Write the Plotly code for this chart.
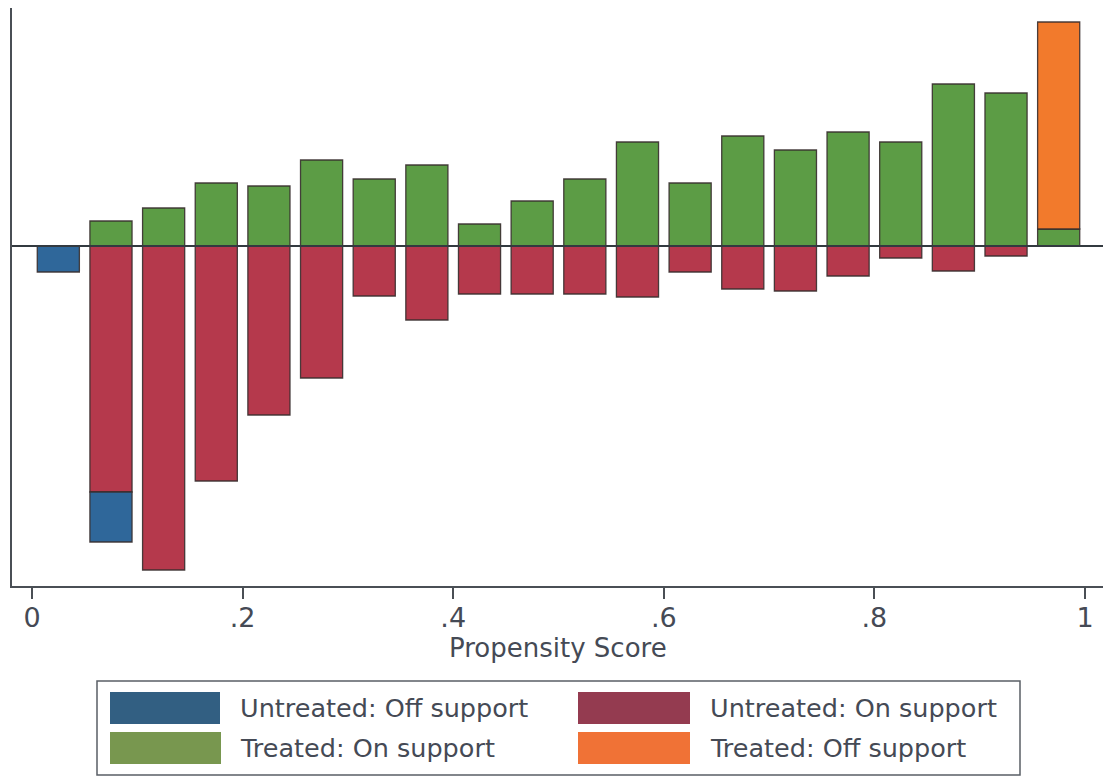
import plotly.graph_objects as go

# ---- data (bin centres of propensity score, bar heights as density) ----
bin_centers = [0.025, 0.075, 0.125, 0.175, 0.225, 0.275, 0.325, 0.375, 0.425, 0.475,
               0.525, 0.575, 0.625, 0.675, 0.725, 0.775, 0.825, 0.875, 0.925, 0.975]
treated_on = [None, 0.25, 0.38, 0.63, 0.60, 0.86, 0.67, 0.81, 0.22, 0.45,
              0.67, 1.04, 0.63, 1.10, 0.96, 1.14, 1.04, 1.62, 1.53, 0.17]
treated_off = [None, None, None, None, None, None, None, None, None, None,
               None, None, None, None, None, None, None, None, None, 2.07]
untreated_on = [None, 2.46, 3.24, 2.35, 1.69, 1.32, 0.50, 0.74, 0.48, 0.48,
                0.48, 0.51, 0.26, 0.43, 0.45, 0.30, 0.12, 0.25, 0.10, None]
untreated_off = [0.26, 0.50, None, None, None, None, None, None, None, None,
                 None, None, None, None, None, None, None, None, None, None]
tick_vals = [0, 0.2, 0.4, 0.6, 0.8, 1]
tick_text = ["0", ".2", ".4", ".6", ".8", "1"]
legend_labels = ["Untreated: Off support", "Untreated: On support",
                 "Treated: On support", "Treated: Off support"]

def neg(v):
    return [None if x is None else -x for x in v]

BLUE, RED, GREEN, ORANGE = "#2f679a", "#b5394c", "#5c9c45", "#f27a2c"
LBLUE, LRED, LGREEN, LORANGE = "#325f82", "#943b50", "#78974f", "#f07236"
OUT = "rgba(55,45,45,0.9)"
FONT = "DejaVu Sans"
TXT = "#454a55"

fig = go.Figure()
bw = 0.04
fig.add_trace(go.Bar(x=bin_centers, y=neg(untreated_on), width=bw, name=legend_labels[1],
                     marker=dict(color=RED, line=dict(color=OUT, width=1.3))))
fig.add_trace(go.Bar(x=bin_centers, y=neg(untreated_off), width=bw, name=legend_labels[0],
                     marker=dict(color=BLUE, line=dict(color=OUT, width=1.3))))
fig.add_trace(go.Bar(x=bin_centers, y=treated_on, width=bw, name=legend_labels[2],
                     marker=dict(color=GREEN, line=dict(color=OUT, width=1.3))))
fig.add_trace(go.Bar(x=bin_centers, y=treated_off, width=bw, name=legend_labels[3],
                     marker=dict(color=ORANGE, line=dict(color=OUT, width=1.3))))

# plot area in pixels
L, R, T, B = 12, 1103, 8, 586
W, H = 1109, 777
def px(x):
    return (x - L) / (R - L)
def py(y):
    return (B - y) / (B - T)

shapes = [
    dict(type="line", xref="paper", yref="y", x0=0, x1=1, y0=0, y1=0,
         line=dict(color="#333a40", width=2)),
    dict(type="rect", xref="paper", yref="paper", x0=px(97), x1=px(1020),
         y0=py(775), y1=py(681), line=dict(color="#5a5f66", width=1.5)),
]
swatches = [
    (110, 220, 692, 724, LBLUE, legend_labels[0], 238),
    (578, 690, 692, 724, LRED, legend_labels[1], 708),
    (110, 221, 732, 764, LGREEN, legend_labels[2], 238),
    (578, 690, 732, 764, LORANGE, legend_labels[3], 708),
]
annotations = []
for x0, x1, y0, y1, c, lab, tx in swatches:
    shapes.append(dict(type="rect", xref="paper", yref="paper", x0=px(x0), x1=px(x1),
                       y0=py(y1), y1=py(y0), fillcolor=c, line=dict(width=0)))
    annotations.append(dict(text=lab, xref="paper", yref="paper", x=px(tx),
                            y=py((y0 + y1) / 2), xanchor="left", yanchor="middle",
                            showarrow=False, font=dict(family=FONT, size=25.5, color=TXT)))
annotations.append(dict(text="Propensity Score", xref="paper", yref="paper",
                        x=px(558), y=py(648), xanchor="center", yanchor="middle",
                        showarrow=False, font=dict(family=FONT, size=26, color=TXT)))

fig.update_layout(
    width=W, height=H, barmode="relative", showlegend=False,
    margin=dict(l=L, r=W - R, t=T, b=H - B),
    paper_bgcolor="white", plot_bgcolor="white",
    shapes=shapes, annotations=annotations,
    xaxis=dict(range=[(L - 32) / 1053, (R - 32) / 1053], tickvals=tick_vals, ticktext=tick_text,
               showline=True, linecolor="#4a4f55", linewidth=2, ticks="outside",
               ticklen=11, tickwidth=2, tickcolor="#4a4f55", showgrid=False, zeroline=False,
               ticklabelstandoff=-4,
               tickfont=dict(family=FONT, size=27, color=TXT)),
    yaxis=dict(range=[-3.40, 2.38], showline=True, linecolor="#4a4f55", linewidth=2,
               showticklabels=False, ticks="", showgrid=False, zeroline=False),
)
fig.write_html("out.html", config={"displayModeBar": False},
               post_script="document.body.style.margin='0';document.body.style.overflow='hidden';")
